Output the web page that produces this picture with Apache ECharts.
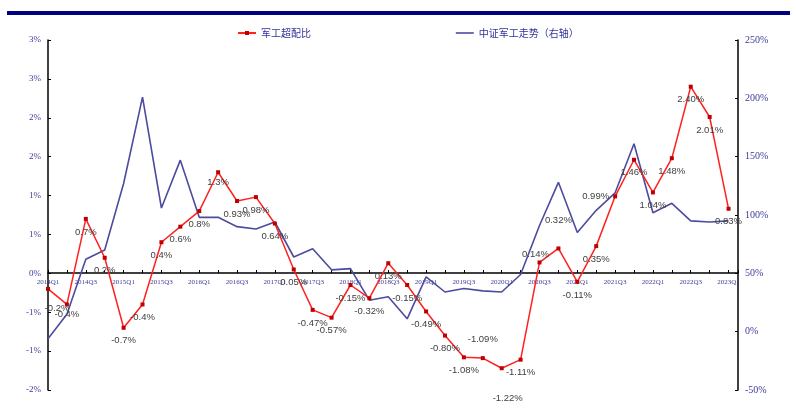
<!DOCTYPE html>
<html><head><meta charset="utf-8">
<script src="https://cdn.jsdelivr.net/npm/echarts@6/dist/echarts.min.js"></script>
<style>html,body{margin:0;padding:0;background:#fff}#c{width:796px;height:415px}</style>
</head><body><div id="c"></div>
<script>
const categories = [
  '2014Q1','2014Q2','2014Q3','2014Q4',
  '2015Q1','2015Q2','2015Q3','2015Q4',
  '2016Q1','2016Q2','2016Q3','2016Q4',
  '2017Q1','2017Q2','2017Q3','2017Q4',
  '2018Q1','2018Q2','2018Q3','2018Q4',
  '2019Q1','2019Q2','2019Q3','2019Q4',
  '2020Q1','2020Q2','2020Q3','2020Q4',
  '2021Q1','2021Q2','2021Q3','2021Q4',
  '2022Q1','2022Q2','2022Q3','2022Q4',
  '2023Q1'
];
// 军工超配比 (%), left axis
const overweightRatio = [
  -0.2, -0.4, 0.7, 0.2, -0.7, -0.4, 0.4, 0.6, 0.8, 1.3,
  0.93, 0.98, 0.64, 0.05, -0.47, -0.57, -0.15, -0.32, 0.13, -0.15,
  -0.49, -0.80, -1.08, -1.09, -1.22, -1.11, 0.14, 0.32, -0.11, 0.35,
  0.99, 1.46, 1.04, 1.48, 2.40, 2.01, 0.83
];
// 中证军工走势 (%), right axis
const indexTrend = [
  -6, 15, 62, 70, 127, 201, 106, 147, 98, 98,
  90, 88, 94, 64, 71, 53, 54, 27, 30, 11,
  47, 34, 37, 35, 34, 49, 91, 128, 85, 104,
  119, 161, 102, 110, 95, 94, 95
];
const leftTickLabels = ['-2%','-1%','-1%','0%','1%','1%','2%','2%','3%','3%'];
const rightTickLabels = ['-50%','0%','50%','100%','150%','200%','250%'];
const seriesNames = ['军工超配比','中证军工走势（右轴）'];

const labelTweaks = {
  0:{distance:12, offset:[9,0]},
  1:{distance:3},
  9:{distance:3},
  23:{position:'top', distance:12},
  24:{distance:23, offset:[6,0]},
  26:{position:'top', distance:1, offset:[-4,0]},
  27:{position:'top', distance:21},
  30:{position:'left', distance:4}
};

const axisColor = '#3a3a9a';
const chart = echarts.init(document.getElementById('c'), null, {renderer:'canvas'});

const redData = overweightRatio.map((v, i) => {
  const item = {value:[i, v]};
  if (labelTweaks[i]) item.label = labelTweaks[i];
  return item;
});
const blueData = indexTrend.map((v, i) => [i, v]);

chart.setOption({
  animation:false,
  backgroundColor:'#fff',
  graphic:[{type:'rect', shape:{x:7, y:11, width:783, height:4}, style:{fill:'#000080'}, silent:true}],
  legend:{
    left:232, top:23, itemGap:144, itemWidth:18, itemHeight:5,
    textStyle:{color:'#333399', fontSize:10, fontFamily:'Noto Sans CJK SC'},
    data:[
      {name:seriesNames[0]},
      {name:seriesNames[1], itemStyle:{opacity:0}, lineStyle:{color:'#4b4ba0', width:1.6, opacity:1}}
    ]
  },
  grid:{left:48, right:58, top:40, bottom:25, containLabel:false},
  xAxis:{
    type:'value', min:0, max:36.5, interval:1, offset:-117,
    axisLine:{onZero:false, lineStyle:{color:'#000', width:1.5}},
    axisTick:{inside:true, length:3, lineStyle:{color:'#000', width:1}},
    axisLabel:{
      fontSize:7, color:axisColor, fontFamily:'Liberation Serif', margin:6,
      showMinLabel:true, showMaxLabel:true,
      formatter:v => (Number.isInteger(v) && v % 2 === 0 && categories[v]) ? categories[v] : ''
    },
    splitLine:{show:false}
  },
  yAxis:[{
    type:'value', min:-1.5, max:3, interval:0.5, position:'left',
    axisLine:{show:true, lineStyle:{color:'#000', width:1.5}},
    axisTick:{show:true, inside:true, length:3, lineStyle:{color:'#000'}},
    axisLabel:{fontSize:9, color:axisColor, fontFamily:'Liberation Serif', margin:7,
      formatter:v => leftTickLabels[Math.round((v + 1.5) / 0.5)]},
    splitLine:{show:false}
  },{
    type:'value', min:-50, max:250, interval:50, position:'right',
    axisLine:{show:true, lineStyle:{color:'#000', width:1.5}},
    axisTick:{show:true, inside:true, length:3, lineStyle:{color:'#000'}},
    axisLabel:{fontSize:10, color:axisColor, fontFamily:'Liberation Serif', margin:7,
      formatter:v => rightTickLabels[Math.round((v + 50) / 50)]},
    splitLine:{show:false}
  }],
  series:[{
    name:seriesNames[0], type:'line', yAxisIndex:0, z:3,
    data:redData,
    symbol:'rect', symbolSize:4,
    itemStyle:{color:'#c00000'},
    lineStyle:{color:'#ff2020', width:1.5},
    label:{
      show:true, position:'bottom', distance:6,
      color:'#404040', fontSize:9.5, fontFamily:'Liberation Sans',
      formatter:p => p.value[1].toFixed(p.dataIndex < 10 ? 1 : 2) + '%'
    }
  },{
    name:seriesNames[1], type:'line', yAxisIndex:1, z:2,
    data:blueData, symbol:'none',
    itemStyle:{color:'#4b4ba0'},
    lineStyle:{color:'#4b4ba0', width:1.6}
  }]
});
</script>
</body></html>
